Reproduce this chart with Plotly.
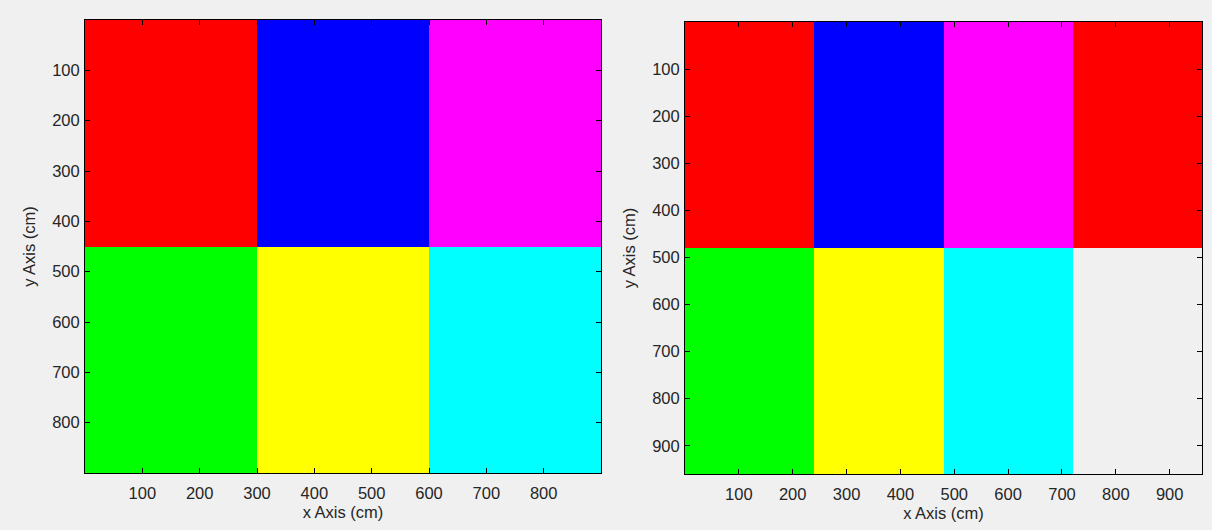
import plotly.graph_objects as go

# Left panel data
left_x_edges = [0, 300, 600, 900]
left_y_edges = [0, 450, 900]
left_cells = [[0, 1, 2], [3, 4, 5]]
left_ticks = [100, 200, 300, 400, 500, 600, 700, 800]

# Right panel data
right_x_edges = [0, 240, 480, 720, 960]
right_y_edges = [0, 480, 960]
right_cells = [[0, 1, 2, 0], [3, 4, 5, None]]
right_ticks = [100, 200, 300, 400, 500, 600, 700, 800, 900]

colors = ["#ff0000", "#0000ff", "#ff00ff", "#00ff00", "#ffff00", "#00ffff"]

n = len(colors)
cscale = []
for i, c in enumerate(colors):
    cscale.append([i / n, c])
    cscale.append([(i + 1) / n, c])

BG = "#f0f0f0"
FONT = dict(family="Liberation Sans, Arial, sans-serif", size=16.5, color="#262626")

fig = go.Figure()
fig.add_trace(go.Heatmap(x=left_x_edges, y=left_y_edges, z=left_cells,
                         colorscale=cscale, zmin=-0.5, zmax=n - 0.5,
                         showscale=False, xaxis="x", yaxis="y", hoverongaps=False))
fig.add_trace(go.Heatmap(x=right_x_edges, y=right_y_edges, z=right_cells,
                         colorscale=cscale, zmin=-0.5, zmax=n - 0.5,
                         showscale=False, xaxis="x2", yaxis="y2", hoverongaps=False))

ax_common = dict(showgrid=False, zeroline=False, showline=True, linecolor="#000000",
                 linewidth=1, mirror="ticks", ticks="inside", ticklen=5,
                 tickcolor="#000000", tickfont=FONT, title_font=FONT)

xax = dict(ticklabelstandoff=5, **ax_common)
yax = dict(ticklabelstandoff=1, **ax_common)

fig.update_layout(
    width=1212, height=530,
    margin=dict(l=0, r=0, t=0, b=0),
    paper_bgcolor=BG, plot_bgcolor=BG,
    font=FONT,
    xaxis=dict(domain=[85 / 1212, 601 / 1212], range=[0, 900], tickvals=left_ticks,
               title=dict(text="x Axis (cm)", standoff=5), anchor="y", **xax),
    yaxis=dict(domain=[1 - 473 / 530, 1 - 20 / 530], range=[900, 0], tickvals=left_ticks,
               title=dict(text="y Axis (cm)", standoff=12), anchor="x", **yax),
    xaxis2=dict(domain=[685 / 1212, 1202 / 1212], range=[0, 960], tickvals=right_ticks,
                title=dict(text="x Axis (cm)", standoff=5), anchor="y2", **xax),
    yaxis2=dict(domain=[1 - 474 / 530, 1 - 22 / 530], range=[960, 0], tickvals=right_ticks,
                title=dict(text="y Axis (cm)", standoff=12), anchor="x2", **yax),
)

fig.write_html("out.html")
